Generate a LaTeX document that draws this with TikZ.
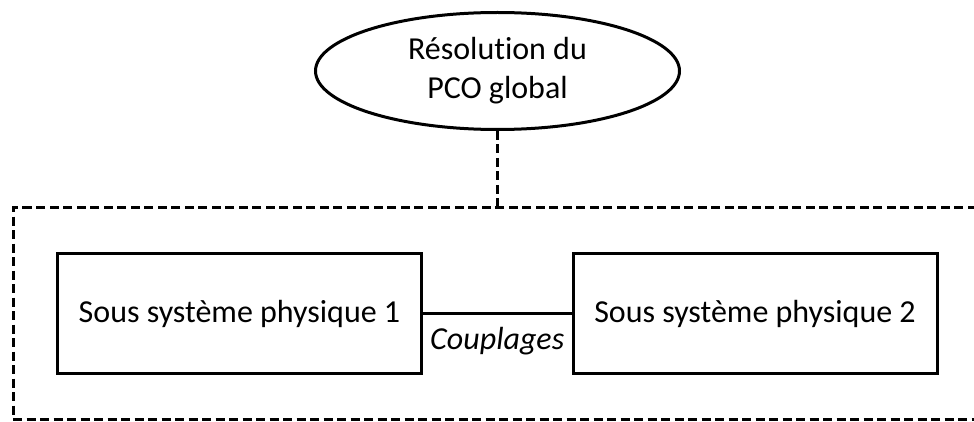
\documentclass[tikz,border=0pt]{standalone}
\usepackage{fontspec}
\setmainfont{Carlito}[Ligatures=NoCommon]
\usetikzlibrary{shapes.geometric}

\begin{document}
\begin{tikzpicture}[x=1pt, y=-1pt, line width=3pt, font=\fontsize{32}{39}\selectfont]
    % Frame of the picture
    \useasboundingbox (0,0) rectangle (974,422);
    \clip (0,0) rectangle (974,422);

    \tikzset{
        sysbox/.style={draw, rectangle, minimum width=364pt, minimum height=120pt, inner sep=0pt},
        dashline/.style={dash pattern=on 9pt off 4.5pt}
    }

    % Global problem
    \node[draw, ellipse, minimum width=364pt, minimum height=117pt, inner sep=0pt, align=center]
        (pco) at (497.5,71) {Résolution du\\PCO global};

    % Dashed frame round the subsystems
    \node[draw, dashline, minimum width=977pt, minimum height=211pt, inner sep=0pt]
        (cadre) at (501.5,313.5) {};
    \draw[dashline] (pco.south) -- (pco.south |- cadre.north);

    % Subsystems and coupling
    \node[sysbox] (sys1) at (239.5,313.5) {Sous système physique 1};
    \node[sysbox] (sys2) at (755,313.5) {Sous système physique 2};
    \draw (sys1.east) -- node[below=9pt] {\itshape Couplages} (sys2.west);

\end{tikzpicture}
\end{document}
